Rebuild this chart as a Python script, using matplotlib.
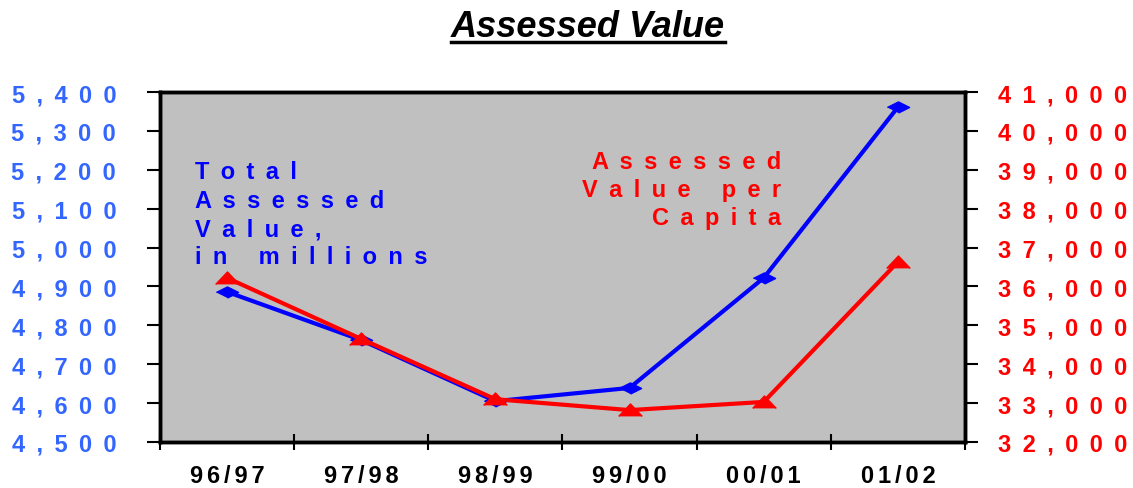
import numpy as np
import matplotlib
matplotlib.use("Agg")
import matplotlib.pyplot as plt
from matplotlib.ticker import FixedLocator, FuncFormatter
from matplotlib.lines import Line2D

# data
years = ["96/97", "97/98", "98/99", "99/00", "00/01", "01/02"]
total_value = [4886, 4762, 4605, 4639, 4922, 5361]        # millions, left axis
per_capita = [36220, 34650, 33100, 32820, 33030, 36630]   # right axis
left_ticks = np.arange(4500, 5401, 100)
right_ticks = np.arange(32000, 41001, 1000)

BLUE = "#0000FF"
RED = "#FF0000"
LBLUE = "#3366FF"
GRAY = "#C0C0C0"

plt.rcParams.update({
    "font.family": ["Liberation Sans", "DejaVu Sans"],
    "font.weight": "bold",
})

WIDE = " \u2009"   # space + thin space
NARROW = "\u2006"  # six-per-em space


def spread(s, gap=WIDE, word_gap=WIDE + "   "):
    # wide letter spacing like the original export
    return word_gap.join(gap.join(list(w)) for w in s.split(" "))


fig = plt.figure(figsize=(11.33, 4.89), dpi=100)
ax = fig.add_axes([0.1412, 0.0941, 0.7105, 0.7157])
ax.set_facecolor(GRAY)
ax2 = ax.twinx()

x = np.arange(1, len(years) + 1)
diamond = [(-1, 0), (0, 0.5), (1, 0), (0, -0.5)]
triangle = [(-1, -0.5), (0, 0.55), (1, -0.5)]

ax.plot(x, total_value, color=BLUE, lw=3, marker=diamond, markersize=16,
        zorder=3, solid_joinstyle="miter")
ax2.plot(x, per_capita, color=RED, lw=3, marker=triangle, markersize=17,
         zorder=4, solid_joinstyle="miter")

ax.set_xlim(0.5, len(years) + 0.5)
ax.set_ylim(4500, 5400)
ax2.set_ylim(32000, 41000)

# category axis: ticks between categories, labels in the middle
ax.xaxis.set_major_locator(FixedLocator(np.arange(0.5, len(years) + 1, 1)))
ax.xaxis.set_minor_locator(FixedLocator(x))
ax.xaxis.set_major_formatter(FuncFormatter(lambda v, p: ""))
ax.xaxis.set_minor_formatter(FuncFormatter(lambda v, p: spread(years[int(round(v)) - 1], NARROW)))
ax.tick_params(axis="x", which="major", direction="inout", length=12, width=1.5, color="black")
ax.tick_params(axis="x", which="minor", length=0, pad=16, labelsize=17)

ax.yaxis.set_major_locator(FixedLocator(left_ticks))
ax.yaxis.set_major_formatter(FuncFormatter(lambda v, p: spread(f"{v:,.0f}")))
ax.tick_params(axis="y", direction="out", length=9.5, width=1.5, pad=22,
               labelsize=17, labelcolor=LBLUE)

ax2.yaxis.set_major_locator(FixedLocator(right_ticks))
ax2.yaxis.set_major_formatter(FuncFormatter(lambda v, p: spread(f"{v:,.0f}")))
ax2.tick_params(axis="y", direction="out", length=9.5, width=1.5, pad=14,
                labelsize=17, labelcolor=RED)

for a in (ax, ax2):
    for sp in a.spines.values():
        sp.set_linewidth(2.5)
        sp.set_color("black")

# series labels inside the plot
blue_lines = ["Total", "Assessed", "Value,", "in millions"]
blue_y = [0.754, 0.671, 0.591, 0.511]
for s, yy in zip(blue_lines, blue_y):
    ax.text(0.0435, yy, spread(s), transform=ax.transAxes, color=BLUE,
            fontsize=17, fontweight="bold", ha="left", va="baseline", zorder=5)

red_lines = ["Assessed", "Value per", "Capita"]
red_y = [0.783, 0.703, 0.623]
for s, yy in zip(red_lines, red_y):
    ax.text(0.772, yy, spread(s), transform=ax.transAxes, color=RED,
            fontsize=17, fontweight="bold", ha="right", va="baseline", zorder=5)

# title, underlined
title = fig.text(0.519, 1 - 37 / 489, "Assessed Value", fontsize=26,
                 fontweight="bold", style="italic", ha="center", va="baseline")
fig.canvas.draw()
bb = title.get_window_extent()
W, H = fig.get_size_inches() * fig.dpi
uy = (489 - 43) / 489
fig.add_artist(Line2D([bb.x0 / W, bb.x1 / W], [uy, uy], color="black", lw=2.5,
                      transform=fig.transFigure))

fig.savefig("out.png", dpi=100)
